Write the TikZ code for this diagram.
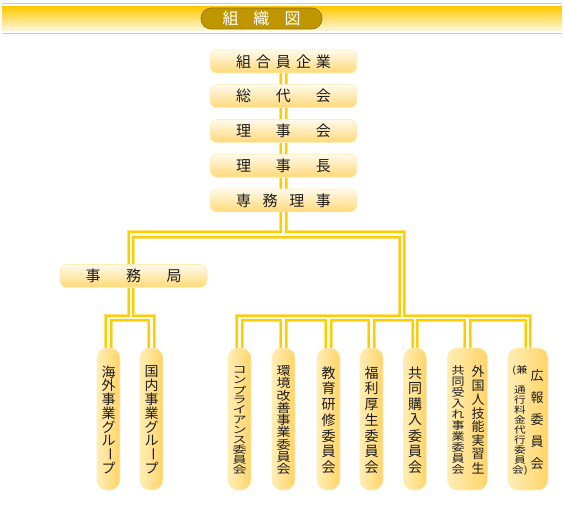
\documentclass[tikz,border=0pt]{standalone}
\usepackage{fontspec}
\setmainfont{Noto Sans CJK JP}
\definecolor{gold}{HTML}{FFCC00}
\definecolor{goldpale}{HTML}{FFE27A}
\definecolor{corecol}{HTML}{FFFCEE}
\definecolor{pillcol}{HTML}{BF9600}
\definecolor{pilledge}{HTML}{8F7000}
\definecolor{boxtop}{HTML}{FFFAEC}
\definecolor{boxbot}{HTML}{FFD978}
\definecolor{boxedge}{HTML}{FFEDB8}
\definecolor{vleft}{HTML}{FFEDB5}
\definecolor{vmid}{HTML}{FFF8E2}
\definecolor{vright}{HTML}{FFD468}
\definecolor{txt}{HTML}{1E1E1E}
\definecolor{bandtop}{HTML}{FFC800}
\definecolor{bandbot}{HTML}{FFF7DE}
\definecolor{bandline}{HTML}{FFCC33}
\pgfdeclarelayer{bglayer}
\pgfdeclarelayer{backmost}
\pgfsetlayers{backmost,bglayer,main}
\newcommand{\vbar}{\rotatebox[origin=c]{-90}{ー}}
% #1 name, #2 x, #3 n, #4 yscale, #5 xscale, #6 list
\newcommand{\vcol}[6]{%
  \foreach \ch [count=\i] in {#6} {
    \node[vch, name=#1-\i] at (#2, {365 + (\i-0.5)*110/#3}) {\scalebox{#5}[#4]{\ch}};
  }}
\tikzset{
  conn/.style={preaction={draw=goldpale,line width=8.5pt,line join=miter},
               preaction={draw=gold,line width=6.5pt,line join=miter},
               draw=corecol, line width=2.2pt, line join=miter},
  hbox/.style={rounded corners=7pt, top color=boxtop, bottom color=boxbot,
               draw=boxedge, line width=0.6pt, minimum width=147pt,
               minimum height=23pt, inner sep=0pt, text=txt,
               font=\fontsize{15}{16}\selectfont},
  vbox/.style={rounded corners=10pt, left color=vleft, middle color=vmid,
               right color=vright, draw=boxedge, line width=0.6pt,
               minimum height=142pt, minimum width=23pt, inner sep=0pt},
  vch/.style={inner sep=0pt, text=txt, font=\fontsize{14}{14}\selectfont},
  titlepill/.style={rounded corners=10pt, fill=pillcol, draw=pilledge,
               line width=0.6pt, minimum width=121pt, minimum height=21pt,
               inner sep=0pt, text=white, font=\fontsize{16}{16}\selectfont},
}
\begin{document}
\begin{tikzpicture}[x=1pt,y=-1pt]
\useasboundingbox (0,0) rectangle (564,516);
\begin{pgfonlayer}{backmost}
\fill[white] (0,0) rectangle (564,516);
\end{pgfonlayer}
% banner
\shade[top color=bandtop, bottom color=bandbot] (2,6.5) rectangle (562,30.5);
\draw[bandline, line width=1.6pt] (2,3.7) -- (562,3.7);
\draw[bandline, line width=1.4pt] (2,33.6) -- (562,33.6);
\node[titlepill] (title) at (261.5,18.5) {\hbox to 78pt{組\hfil 織\hfil 図}};

% junction points
\coordinate (jM) at (283.5,234.5);
\coordinate (jL) at (131,234.5);
\coordinate (jR) at (402,234.5);
\coordinate (kL) at (131,318);
\coordinate (kR) at (402,318);

% horizontal boxes
\node[hbox] (b1) at (283.5,61.5)  {\hbox to 95pt{組\hfil 合\hfil 員\hfil 企\hfil 業}};
\node[hbox] (b2) at (283.5,96.2)  {\hbox to 95pt{総\hfil 代\hfil 会}};
\node[hbox] (b3) at (283.5,131)   {\hbox to 95pt{理\hfil 事\hfil 会}};
\node[hbox] (b4) at (283.5,165.7) {\hbox to 95pt{理\hfil 事\hfil 長}};
\node[hbox] (b5) at (283.5,200.4) {\hbox to 95pt{専\hfil 務\hfil 理\hfil 事}};
\node[hbox] (jimu) at (133.5,276) {\hbox to 96pt{事\hfil 務\hfil 局}};

% vertical boxes
\node[vbox] (l1) at (108.5,419) {};
\node[vbox] (l2) at (151.5,419) {};
\node[vbox] (r1) at (239.5,419) {};
\node[vbox] (r2) at (283.5,419) {};
\node[vbox] (r3) at (328.5,419) {};
\node[vbox] (r4) at (371.5,419) {};
\node[vbox] (r5) at (415,419) {};
\node[vbox, minimum width=40pt] (r6) at (467.5,419) {};
\node[vbox, minimum width=40pt] (r7) at (528,419) {};

% connectors (behind the boxes)
\begin{pgfonlayer}{bglayer}
\draw[conn]
  (b1.center) -- (b5.center) -- (jM)
  (kL) -- (jL) -- (jR) -- (kR)
  (jL) -- (jimu.north -| jL)
  (l1.north) |- (kL) -| (l2.north)
  (r1.north) |- (kR) -| (r7.north)
  (r2.north) -- (r2.north |- kR)
  (r3.north) -- (r3.north |- kR)
  (r4.north) -- (r4.north |- kR)
  (r5.north) -- (r5.north |- kR)
  (r6.north) -- (r6.north |- kR);
\end{pgfonlayer}

% vertical texts
\vcol{ta}{108.5}{8}{0.98}{1}{海,外,事,業,グ,ル,\vbar,プ}
\vcol{tb}{151.5}{8}{0.98}{1}{国,内,事,業,グ,ル,\vbar,プ}
\vcol{tc}{239.5}{11}{0.72}{1}{コ,ン,プ,ラ,イ,ア,ン,ス,委,員,会}
\vcol{td}{283.5}{9}{0.87}{1}{環,境,改,善,事,業,委,員,会}
\vcol{te}{328.5}{7}{1}{1}{教,育,研,修,委,員,会}
\vcol{tf}{371.5}{7}{1}{1}{福,利,厚,生,委,員,会}
\vcol{tg}{415}{7}{1}{1}{共,同,購,入,委,員,会}
\tikzset{vch/.style={inner sep=0pt, text=txt, font=\fontsize{13}{13}\selectfont}}
\vcol{th}{478}{8}{1}{1}{外,国,人,技,能,実,習,生}
\vcol{ti}{458}{10}{0.82}{1}{共,同,受,入,れ,事,業,委,員,会}
\vcol{tk}{520}{11}{0.72}{0.9}{{(兼},{},通,行,料,金,代,行,委,員,{会)}}
\vcol{tj}{537}{5}{1}{1}{広,報,委,員,会}
\end{tikzpicture}
\end{document}
